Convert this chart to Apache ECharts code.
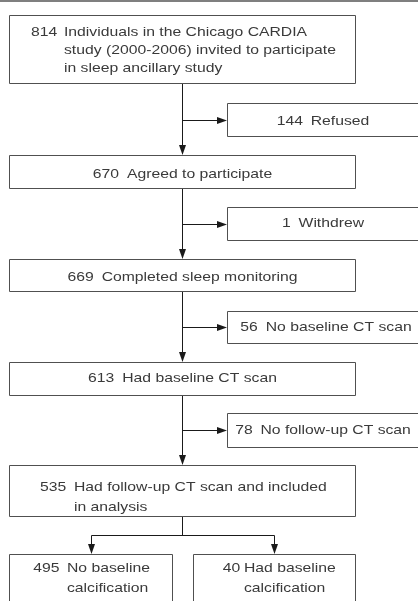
<!DOCTYPE html>
<html>
<head>
<meta charset="utf-8">
<script src="https://cdn.jsdelivr.net/npm/echarts@6/dist/echarts.min.js"></script>
<style>
  html, body { margin: 0; padding: 0; background: #fff; }
  #chart { width: 418px; height: 601px; }
</style>
</head>
<body>
<div id="chart"></div>
<script>
// participants at each step of the flow
const counts = [814, 144, 670, 1, 669, 56, 613, 78, 535, 495, 40]
const labels = [
  'Individuals in the Chicago CARDIA\nstudy (2000-2006) invited to participate\nin sleep ancillary study',
  'Refused',
  'Agreed to participate',
  'Withdrew',
  'Completed sleep monitoring',
  'No baseline CT scan',
  'Had baseline CT scan',
  'No follow-up CT scan',
  'Had follow-up CT scan and included\nin analysis',
  'No baseline\ncalcification',
  'Had baseline\ncalcification'
]

// layout, in pixels of the 418x601 page: [x0, y0, x1, y1]
const boxRects = [
  [9, 15, 355, 83],
  [227, 103, 420, 136],
  [9, 155, 355, 188],
  [227, 207, 420, 240],
  [9, 259, 355, 291],
  [227, 311, 420, 343],
  [9, 362, 355, 395],
  [227, 413, 420, 447],
  [9, 465, 355, 516],
  [9, 554, 172, 640],
  [193, 554, 355, 640]
]
// text placement: [mode, x, y of first line, line height, x of wrapped text]
// 'c' = centred on x, 'h' = number at x and text from the last value
const textPos = [
  ['h', 31, 32.5, 18, 64],
  ['c', 323, 121],
  ['c', 182.5, 174.3],
  ['c', 323, 223.3],
  ['c', 182.5, 277.3],
  ['c', 326, 327.5],
  ['c', 182.5, 378.8],
  ['c', 323, 430],
  ['h', 40, 487.3, 20, 74],
  ['h', 33.3, 568.8, 20, 67],
  ['h', 222.7, 568.8, 20, 244]
]
const mainX = 182
const splitY = 535
const mainSteps = [0, 2, 4, 6, 8]

const FONT = '13px "Liberation Sans", Arial, Helvetica, sans-serif'
const SX = 1.21
const textColor = '#3a3a3a'
const boxColor = '#505050'
const lineColor = '#1a1a1a'
const ARROW = [7, 10]
const HALF = ARROW[1] / 2

const crisp = v => Math.round(v) + 0.5
const cx = r => (r[0] + r[2]) / 2
const cy = r => (r[1] + r[3]) / 2

// connectors, built from the boxes; arrow lines stop half an arrow short
// so the (centred) head's tip meets the box edge
const arrow = ['none', 'triangle']
const connectors = []
connectors.push({ coords: [[0, 0.5], [418, 0.5]], symbol: 'none', lineStyle: { color: '#555', width: 1.5 } })
for (let k = 0; k < mainSteps.length - 1; k++) {
  const a = boxRects[mainSteps[k]]
  const b = boxRects[mainSteps[k + 1]]
  const side = boxRects[mainSteps[k] + 1]
  connectors.push({ coords: [[crisp(mainX), a[3]], [crisp(mainX), b[1] - HALF]], symbol: arrow })
  connectors.push({ coords: [[crisp(mainX), crisp(cy(side))], [side[0] - HALF, crisp(cy(side))]], symbol: arrow })
}
const last = boxRects[8]
const left = boxRects[9]
const right = boxRects[10]
connectors.push({ coords: [[crisp(mainX), last[3]], [crisp(mainX), crisp(splitY)]], symbol: 'none' })
connectors.push({ coords: [[crisp(cx(left)), crisp(splitY)], [crisp(cx(right)), crisp(splitY)]], symbol: 'none' })
connectors.push({ coords: [[crisp(cx(left)), crisp(splitY)], [crisp(cx(left)), left[1] - HALF]], symbol: arrow })
connectors.push({ coords: [[crisp(cx(right)), crisp(splitY)], [crisp(cx(right)), right[1] - HALF]], symbol: arrow })

function textEl(text, x, y, align) {
  return {
    type: 'text',
    x: x,
    y: y,
    scaleX: SX,
    style: { text: text, x: 0, y: 0, align: align, verticalAlign: 'middle', font: FONT, fill: textColor }
  }
}

function renderBox(params, api) {
  const i = api.value(4)
  const p0 = api.coord([api.value(0), api.value(1)])
  const p1 = api.coord([api.value(2), api.value(3)])
  const children = [{
    type: 'rect',
    shape: { x: crisp(p0[0]), y: crisp(p0[1]), width: Math.round(p1[0] - p0[0]), height: Math.round(p1[1] - p0[1]) },
    style: { fill: '#fff', stroke: boxColor, lineWidth: 1 }
  }]
  const [mode, x, y, lh, tx] = textPos[i]
  const lines = labels[i].split('\n')
  if (mode === 'c') {
    const p = api.coord([x, y])
    children.push(textEl(counts[i] + '\u2002' + lines[0], p[0], p[1], 'center'))
  } else {
    const pn = api.coord([x, y])
    children.push(textEl(String(counts[i]), pn[0], pn[1], 'left'))
    lines.forEach((line, k) => {
      const p = api.coord([tx, y + k * lh])
      children.push(textEl(line, p[0], p[1], 'left'))
    })
  }
  return { type: 'group', children: children }
}

const chart = echarts.init(document.getElementById('chart'))
chart.setOption({
  animation: false,
  backgroundColor: '#fff',
  grid: { left: 0, right: 0, top: 0, bottom: 0, containLabel: false },
  xAxis: { type: 'value', min: 0, max: 418, show: false },
  yAxis: { type: 'value', min: 0, max: 601, inverse: true, show: false },
  series: [{
    type: 'lines',
    coordinateSystem: 'cartesian2d',
    silent: true,
    symbolSize: [ARROW, ARROW],
    lineStyle: { color: lineColor, width: 1, opacity: 1, curveness: 0 },
    data: connectors
  }, {
    type: 'custom',
    silent: true,
    renderItem: renderBox,
    data: boxRects.map((r, i) => r.concat(i))
  }]
})
</script>
</body>
</html>
